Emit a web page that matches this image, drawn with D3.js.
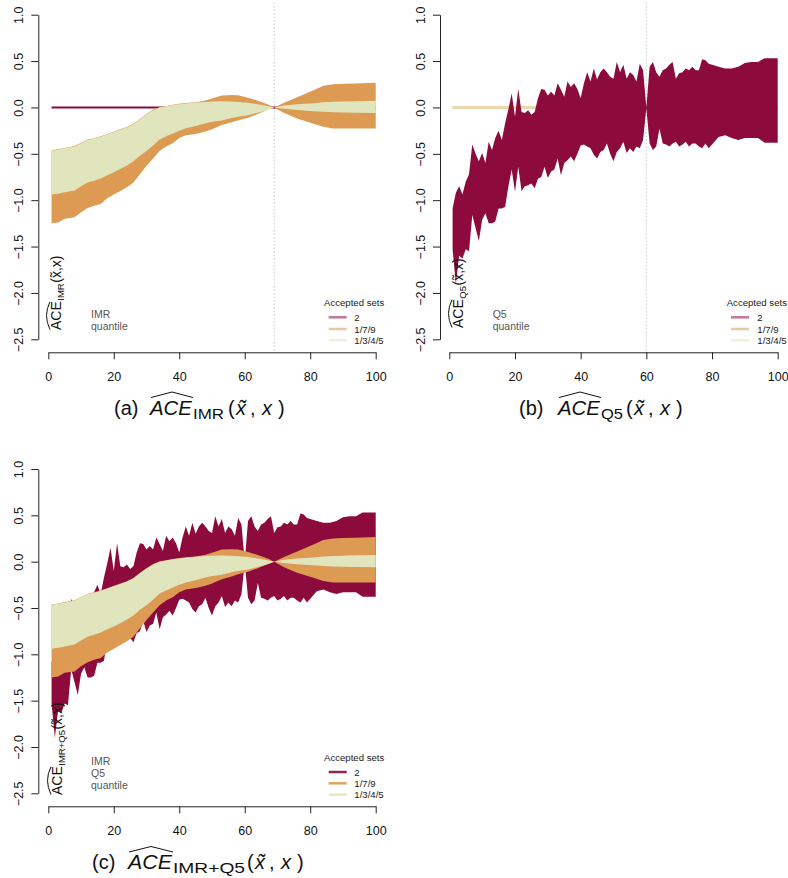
<!DOCTYPE html>
<html>
<head>
<meta charset="utf-8">
<script src="https://cdn.jsdelivr.net/npm/d3@7"></script>
<style>
  body { margin: 0; background: #fff; }
  svg text { font-family: "Liberation Sans", Arial, sans-serif; }
</style>
</head>
<body>
<div id="graf"></div>
<script>
// ---------- datos ----------
const xTicks = [0, 20, 40, 60, 80, 100]
const yTicks = [-2.5, -2.0, -1.5, -1.0, -0.5, 0.0, 0.5, 1.0]
const legendSets = ["2", "1/7/9", "1/3/4/5"]

// IMR: bandas de los conjuntos 1/7/9 y 1/3/4/5
const imrX = [1, 3, 5, 8, 10, 12, 14, 16, 18, 20, 22, 24, 26, 28, 30, 32, 34, 36, 38, 40,
              42, 45, 48, 50, 53, 56, 58, 61, 64, 67, 69, 72, 76, 81, 84, 87, 90, 94, 100]
const imr179Upper = [-0.462, -0.451, -0.436, -0.416, -0.381, -0.346, -0.331, -0.311, -0.286, -0.261,
                     -0.236, -0.211, -0.176, -0.121, -0.071, -0.026, 0.004, 0.016, 0.029, 0.039,
                     0.047, 0.056, 0.075, 0.097, 0.13, 0.134, 0.132, 0.105, 0.072, 0.035,
                     0.0, 0.05, 0.11, 0.186, 0.235, 0.25, 0.255, 0.258, 0.265]
const imr179Lower = [-1.25, -1.24, -1.2, -1.185, -1.13, -1.085, -1.06, -1.04, -0.98, -0.94,
                     -0.9, -0.86, -0.81, -0.72, -0.63, -0.55, -0.47, -0.42, -0.385, -0.33,
                     -0.3, -0.285, -0.26, -0.235, -0.19, -0.16, -0.137, -0.11, -0.07, -0.025,
                     0.0, -0.06, -0.12, -0.175, -0.208, -0.226, -0.226, -0.226, -0.226]
const imr1345Upper = [-0.466, -0.455, -0.44, -0.42, -0.385, -0.35, -0.335, -0.315, -0.29, -0.265,
                      -0.24, -0.215, -0.18, -0.125, -0.075, -0.03, 0.0, 0.012, 0.025, 0.035,
                      0.043, 0.052, 0.06, 0.065, 0.066, 0.063, 0.058, 0.05, 0.035, 0.015,
                      0.0, 0.02, 0.035, 0.045, 0.055, 0.062, 0.065, 0.068, 0.072]
const imr1345Lower = [-0.94, -0.93, -0.915, -0.895, -0.85, -0.81, -0.79, -0.765, -0.73, -0.7,
                      -0.665, -0.625, -0.58, -0.52, -0.47, -0.41, -0.345, -0.31, -0.28, -0.25,
                      -0.225, -0.2, -0.17, -0.155, -0.14, -0.115, -0.1, -0.085, -0.057, -0.028,
                      0.0, -0.015, -0.028, -0.04, -0.047, -0.052, -0.055, -0.058, -0.06]

// Q5: banda del conjunto 2
const q5X = d3.range(1, 81).concat([82, 84, 86, 88, 90, 92, 94, 96, 98, 100])
const q5Set2Upper = [-1.09, -0.92, -0.85, -0.94, -0.8, -0.72, -0.4, -0.5, -0.58, -0.49,
                     -0.6, -0.37, -0.46, -0.33, -0.25, -0.35, -0.17, -0.02, 0.15, -0.1,
                     0.2, -0.05, -0.06, -0.03, -0.08, -0.05, 0.1, 0.2, 0.19, 0.13,
                     0.17, 0.13, 0.26, 0.19, 0.115, 0.28, 0.22, 0.26, 0.2, 0.1,
                     0.26, 0.38, 0.28, 0.42, 0.3, 0.38, 0.42, 0.38, 0.33, 0.31,
                     0.49, 0.38, 0.46, 0.31, 0.38, 0.35, 0.28, 0.47, 0.4, 0.0,
                     0.44, 0.49, 0.38, 0.33, 0.4, 0.42, 0.46, 0.49, 0.31, 0.37,
                     0.38, 0.42, 0.4, 0.44, 0.4, 0.4, 0.52, 0.51, 0.47, 0.46,
                     0.44, 0.42, 0.42, 0.44, 0.48, 0.49, 0.49, 0.53, 0.53, 0.53]
const q5Set2Lower = [-1.53, -1.9, -1.6, -1.63, -1.53, -1.55, -1.16, -1.3, -1.44, -1.21,
                     -1.14, -1.25, -1.25, -1.23, -1.09, -1.09, -1.07, -0.85, -0.67, -0.91,
                     -0.64, -0.9, -0.85, -0.84, -0.82, -0.87, -0.77, -0.75, -0.64, -0.76,
                     -0.69, -0.67, -0.55, -0.73, -0.6, -0.57, -0.53, -0.58, -0.5, -0.41,
                     -0.4, -0.42, -0.44, -0.51, -0.55, -0.48, -0.46, -0.39, -0.5, -0.58,
                     -0.48, -0.44, -0.37, -0.49, -0.44, -0.48, -0.42, -0.44, -0.35, -0.01,
                     -0.39, -0.46, -0.42, -0.23, -0.39, -0.4, -0.42, -0.39, -0.37, -0.42,
                     -0.4, -0.37, -0.42, -0.39, -0.39, -0.42, -0.44, -0.39, -0.44, -0.4,
                     -0.32, -0.3, -0.33, -0.35, -0.33, -0.33, -0.33, -0.38, -0.38, -0.38]

// conjuntos que quedan en cero (banda sin ancho)
const flatX = [1, 100]
const flatZero = [0, 0]

// ---------- estilos ----------
const setColors = ["#8c0a3c", "#dd9a52", "#e0e5be"]
const zeroLineColors = ["#8c0a3c", "#dd9a52", "#e6ddb6"]

const svg = d3.select("#graf")
  .append("svg")
  .attr("width", 788)
  .attr("height", 878)

// configuracion de cada panel
const panels = [
  {
    xr: [48.3, 375.7], yr: [339.3, 14.7], yAxisX: 38.3, xAxisY: 352.3, vline: 69,
    bands: [
      { xs: flatX, lo: flatZero, hi: flatZero, set: 0, flat: true },
      { xs: imrX, lo: imr179Lower, hi: imr179Upper, set: 1 },
      { xs: imrX, lo: imr1345Lower, hi: imr1345Upper, set: 2 }
    ],
    notes: ["IMR", "quantile"], notesX: 91, notesY: [318.3, 329.7],
    leg: { titleX: 324, x0: 328.7, x1: 346.7, labX: 354.3, titleY: 306, rows: [317.3, 329, 340.3], op: 0.55 },
    ylab: { x: 60.5, y: 330, sub: "IMR" },
    cap: { tag: "(a)", tagX: 114, aceX: 150, aceW: 42, sub: "IMR", subX: 193, subW: 31, argX: 228, y: 414.5 }
  },
  {
    xr: [449.3, 777.7], yr: [339.3, 14.7], yAxisX: 440, xAxisY: 352.3, vline: 60,
    bands: [
      { xs: flatX, lo: flatZero, hi: flatZero, set: 1, flat: true },
      { xs: flatX, lo: flatZero, hi: flatZero, set: 2, flat: true },
      { xs: q5X, lo: q5Set2Lower, hi: q5Set2Upper, set: 0 }
    ],
    notes: ["Q5", "quantile"], notesX: 492.7, notesY: [318.3, 329.7],
    leg: { titleX: 726.7, x0: 731, x1: 749, labX: 757.3, titleY: 306, rows: [317.3, 329, 340.3], op: 0.55 },
    ylab: { x: 462.5, y: 328, sub: "Q5" },
    cap: { tag: "(b)", tagX: 519, aceX: 558, aceW: 42, sub: "Q5", subX: 601, subW: 22, argX: 626, y: 414.5 }
  },
  {
    xr: [48.3, 375.7], yr: [793.3, 469], yAxisX: 38.3, xAxisY: 806.3, vline: null,
    bands: [
      { xs: q5X, lo: q5Set2Lower, hi: q5Set2Upper, set: 0 },
      { xs: imrX, lo: imr179Lower, hi: imr179Upper, set: 1 },
      { xs: imrX, lo: imr1345Lower, hi: imr1345Upper, set: 2 }
    ],
    notes: ["IMR", "Q5", "quantile"], notesX: 91, notesY: [765, 777, 788.5],
    leg: { titleX: 324, x0: 328.7, x1: 346.7, labX: 354.3, titleY: 761, rows: [772, 783.3, 794.7], op: 0.9 },
    ylab: { x: 61.5, y: 795, sub: "IMR+Q5" },
    cap: { tag: "(c)", tagX: 92, aceX: 128, aceW: 44, sub: "IMR+Q5", subX: 173, subW: 72, argX: 247, y: 869 }
  }
]

//#######################################
//        funcion de graficado
//#######################################
const drawPanel = (p) => {
  const x = d3.scaleLinear().domain([0, 100]).range(p.xr)
  const y = d3.scaleLinear().domain([-2.5, 1]).range(p.yr)
  const g = svg.append("g")

  // linea punteada vertical
  if (p.vline != null) {
    g.append("line")
      .attr("x1", x(p.vline)).attr("x2", x(p.vline))
      .attr("y1", p.yr[1] - 12).attr("y2", p.xAxisY + 1)
      .attr("stroke", "#c8c8c8")
      .attr("stroke-width", 1)
      .attr("stroke-dasharray", "1.5,2")
  }

  // bandas
  const area = d3.area()
    .x(d => x(d.x))
    .y0(d => y(d.lo))
    .y1(d => y(d.hi))

  p.bands.forEach(b => {
    const rows = b.xs.map((v, i) => ({ x: v, lo: b.lo[i], hi: b.hi[i] }))
    const path = g.append("path")
      .datum(rows)
      .attr("d", area)
      .attr("fill", setColors[b.set])
    if (b.flat) {
      path.attr("stroke", zeroLineColors[b.set]).attr("stroke-width", 2)
    }
  })

  // ejes
  const yAxisGroup = g.append("g")
    .attr("transform", `translate(${p.yAxisX},0)`)
    .call(d3.axisLeft(y).tickValues(yTicks).tickSize(7).tickSizeOuter(0).tickFormat(d3.format(".1f")))
  yAxisGroup.selectAll("text")
    .attr("transform", "rotate(-90)")
    .attr("x", 0).attr("y", -15.5).attr("dy", 0)
    .attr("text-anchor", "middle")

  const xAxisGroup = g.append("g")
    .attr("transform", `translate(0,${p.xAxisY})`)
    .call(d3.axisBottom(x).tickValues(xTicks).tickSize(7).tickSizeOuter(0))
  xAxisGroup.selectAll("text").attr("y", 20)

  g.selectAll(".tick text").attr("font-size", 12.5).attr("fill", "#111")
    .attr("font-family", "Liberation Sans, Arial, sans-serif")
  g.selectAll(".domain, .tick line").attr("stroke", "#222")

  // notas en gris
  p.notes.forEach((t, i) => {
    g.append("text")
      .attr("x", p.notesX).attr("y", p.notesY[i])
      .attr("font-size", 10.5).attr("fill", "#555")
      .text(t)
  })

  // leyenda
  const L = p.leg
  g.append("text")
    .attr("x", L.titleX).attr("y", L.titleY)
    .attr("font-size", 9.6).attr("fill", "#222")
    .text("Accepted sets")
  legendSets.forEach((s, i) => {
    g.append("line")
      .attr("x1", L.x0).attr("x2", L.x1)
      .attr("y1", L.rows[i]).attr("y2", L.rows[i])
      .attr("stroke", setColors[i]).attr("stroke-opacity", L.op)
      .attr("stroke-width", 2.5)
    g.append("text")
      .attr("x", L.labX).attr("y", L.rows[i] + 3.5)
      .attr("font-size", 9.6).attr("fill", "#222")
      .text(s)
  })

  // etiqueta del eje y (rotada, dentro del area)
  const yl = g.append("g")
    .attr("transform", `translate(${p.ylab.x},${p.ylab.y}) rotate(-90)`)
  let cx = 0
  const ace = yl.append("text").attr("x", cx).attr("y", 0).attr("font-size", 14).attr("fill", "#111").text("ACE")
  const wAce = ace.node().getComputedTextLength()
  yl.append("path")
    .attr("d", `M0.5,-10.5 Q${wAce / 2},-17.5 ${wAce - 0.5},-10.5`)
    .attr("fill", "none").attr("stroke", "#111").attr("stroke-width", 1)
  cx += wAce + 0.5
  const sub = yl.append("text").attr("x", cx).attr("y", 3).attr("font-size", 9.5).attr("fill", "#111").text(p.ylab.sub)
  cx += sub.node().getComputedTextLength() + 0.5
  yl.append("text").attr("x", cx).attr("y", 0).attr("font-size", 14).attr("fill", "#111").text("(x\u0303,x)")

  // titulo inferior (estilo LaTeX)
  const C = p.cap
  const serif = "Liberation Serif, Times New Roman, serif"
  const cap = g.append("g").attr("fill", "#111")
  const piece = (t, px, py, size, italic, len) => {
    const e = cap.append("text")
      .attr("x", px).attr("y", py)
      .attr("font-family", serif)
      .attr("font-size", size)
      .attr("font-style", italic ? "italic" : "normal")
      .text(t)
    if (len) e.attr("textLength", len).attr("lengthAdjust", "spacingAndGlyphs")
    return e
  }
  piece(C.tag, C.tagX, C.y, 20, false)
  piece("ACE", C.aceX, C.y, 20, true, C.aceW)
  cap.append("path")
    .attr("d", `M${C.aceX + 1},${C.y - 17} L${C.aceX + C.aceW / 2 + 1},${C.y - 22.5} L${C.aceX + C.aceW + 1},${C.y - 17}`)
    .attr("fill", "none").attr("stroke", "#111").attr("stroke-width", 1)
  piece(C.sub, C.subX, C.y + 4, 14, false, C.subW)
  piece("(", C.argX, C.y, 20, false)
  piece("x\u0303", C.argX + 8, C.y, 20, true)
  piece(",", C.argX + 22, C.y, 20, false)
  piece("x", C.argX + 34, C.y, 20, true)
  piece(")", C.argX + 50, C.y, 20, false)
}

panels.forEach(p => drawPanel(p))
</script>
</body>
</html>
